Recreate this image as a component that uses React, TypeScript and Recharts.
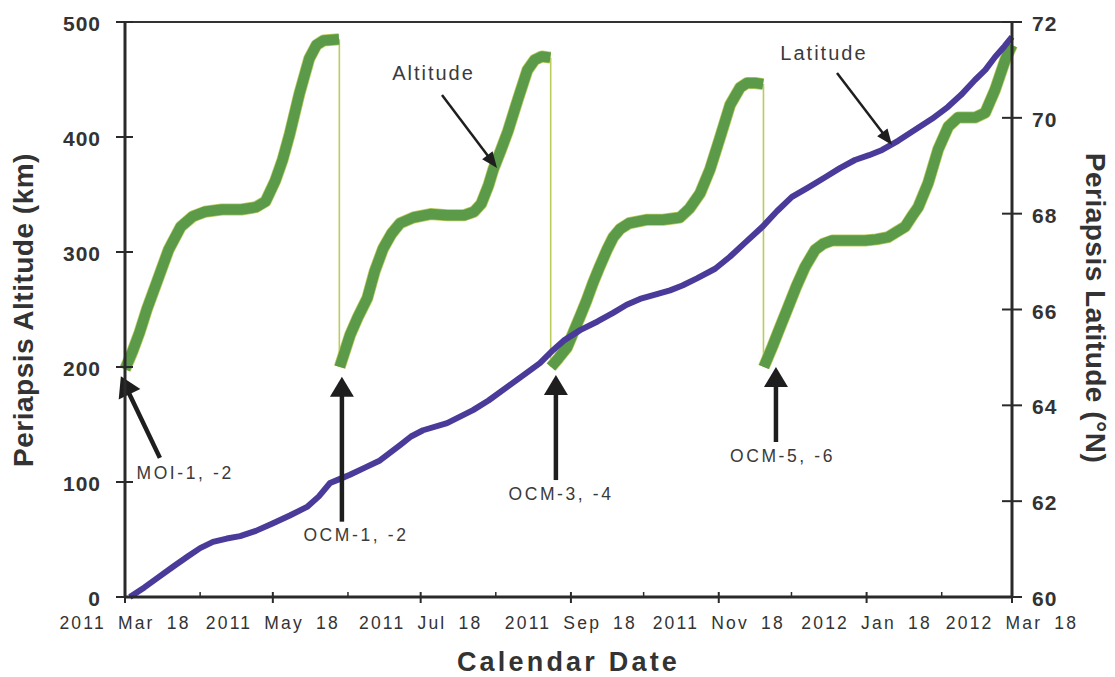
import React from 'react';
import { LineChart, Line, XAxis, YAxis, ReferenceLine, ReferenceDot } from 'recharts';

// Days since 2011 Mar 18
const X_TICK_DAYS = [0, 61, 122, 184, 245, 306, 366];
const X_TICK_LABELS = ['2011 Mar 18', '2011 May 18', '2011 Jul 18', '2011 Sep 18', '2011 Nov 18', '2012 Jan 18', '2012 Mar 18'];
const X_MINOR_DAYS = [31, 92, 153, 214, 275, 337];
const ALT_TICKS = [0, 100, 200, 300, 400, 500];
const LAT_TICKS = [60, 62, 64, 66, 68, 70, 72];

// Periapsis altitude (km), four segments between maneuvers: [day, km]
const ALT_SEG_1: [number, number][] = [
  [0, 198], [3, 213], [6, 230], [9, 250], [13, 273], [18, 302], [23, 322], [28, 331], [33, 335],
  [40, 337], [48, 337], [54, 339], [58, 344], [62, 362], [65, 380], [68, 403], [72, 438], [76, 468],
  [79, 480], [82, 484], [88.3, 485],
];
const ALT_SEG_2: [number, number][] = [
  [88.6, 200], [92.9, 228], [96, 243], [100, 260], [103, 283], [106.5, 303], [110, 316], [113.5, 325],
  [119, 330], [126, 333], [133, 332], [140, 332], [144, 335], [147, 342], [150, 358], [152, 372],
  [155, 388], [158, 405], [162, 432], [166, 458], [169, 467], [172, 470], [175.5, 469],
];
const ALT_SEG_3: [number, number][] = [
  [175.8, 200], [179, 208], [182.4, 217], [185, 230], [187.8, 244], [190.5, 258], [193.1, 273],
  [196, 288], [198.9, 302], [201.5, 313], [204.3, 320], [208, 325], [215, 328], [222, 328], [229, 330],
  [233, 338], [237.3, 351], [241.4, 372], [245.6, 400], [249.7, 428], [253.8, 443], [256.7, 447],
  [260, 447], [263.3, 446],
];
const ALT_SEG_4: [number, number][] = [
  [263.6, 200], [267, 217], [270, 233], [273.6, 252], [277, 270], [280.6, 287], [284.8, 302], [288, 307],
  [291.8, 310], [298, 310], [305.4, 310], [310, 311], [314.9, 313], [318, 317], [321.9, 322], [325, 332],
  [327.3, 339], [331.4, 360], [335.5, 389], [339.7, 409], [343.8, 417], [350.8, 417], [354.9, 421],
  [359, 441], [363.2, 467], [366, 480],
];
// Drops at maneuvers: [day, from km, to km]
const ALT_DROPS: [number, number, number][] = [
  [88.45, 485, 200], [175.65, 469, 200], [263.45, 446, 200],
];

// Periapsis latitude (deg N): [day, deg]
const LATITUDE: [number, number][] = [
  [2, 60.0], [8, 60.2], [14, 60.42], [19.8, 60.63], [26, 60.85], [31, 61.02], [36.3, 61.15], [42, 61.22],
  [47.5, 61.27], [54, 61.38], [61.1, 61.54], [68, 61.7], [75.1, 61.88], [80, 62.1], [84.6, 62.38],
  [88, 62.45], [92.8, 62.55], [99, 62.7], [105.2, 62.85], [113.5, 63.17], [118, 63.35], [123, 63.48],
  [132.9, 63.63], [143.6, 63.9], [150, 64.1], [157.6, 64.38], [165, 64.65], [171.2, 64.88],
  [176.6, 65.15], [181, 65.35], [187.8, 65.57], [195, 65.75], [201.4, 65.93], [207, 66.1],
  [212.5, 66.22], [218, 66.3], [224.9, 66.4], [230, 66.5], [236, 66.65], [243.5, 66.85], [249.6, 67.1],
  [256, 67.4], [262.9, 67.72], [269, 68.05], [275.2, 68.35], [282, 68.55], [288.9, 68.76], [295, 68.95],
  [301.2, 69.12], [307, 69.22], [312.4, 69.33], [319, 69.52], [326, 69.75], [333, 69.98], [339.6, 70.23],
  [345, 70.48], [350.7, 70.79], [355, 71.0], [359, 71.27], [363, 71.5], [366, 71.69],
];

// Annotation texts anchored in (day, km)
const NOTE_TEXTS: { text: string; d: number; v: number; big: boolean }[] = [
  { text: 'MOI-1, -2', d: 24.8, v: 108, big: false },
  { text: 'OCM-1, -2', d: 95.3, v: 54, big: false },
  { text: 'OCM-3, -4', d: 179.9, v: 90, big: false },
  { text: 'OCM-5, -6', d: 271.3, v: 123, big: false },
  { text: 'Altitude', d: 127.3, v: 456, big: true },
  { text: 'Latitude', d: 288.4, v: 473.5, big: true },
];
// Arrows: tail -> tip in (day, km)
const NOTE_ARROWS: { from: [number, number]; to: [number, number]; heavy: boolean }[] = [
  { from: [14.4, 121], to: [-1.7, 192], heavy: true },
  { from: [89.5, 65.5], to: [89.5, 191.6], heavy: true },
  { from: [177.8, 101.7], to: [177.8, 193], heavy: true },
  { from: [268.6, 134.8], to: [268.6, 200], heavy: true },
  { from: [130.8, 436.5], to: [153.5, 373], heavy: false },
  { from: [293.8, 455.7], to: [316.5, 393], heavy: false },
];

const toPts = (arr: [number, number][]) => arr.map(([d, v]) => ({ d, v }));

const FONT = '"Liberation Sans", Arial, Helvetica, sans-serif';
const GREEN = '#5a9a48';
const GREEN_EDGE = '#b9cc5c';
const PURPLE = '#4a3b9b';
const INK = '#2a2a2a';

const XTick = (props: any) => {
  const { x, y, payload } = props;
  const idx = X_TICK_DAYS.indexOf(payload.value);
  if (idx < 0) {
    return <line x1={x} x2={x} y1={y - 5} y2={y} stroke={INK} strokeWidth={1.5} />;
  }
  return (
    <g>
      <line x1={x} x2={x} y1={y - 5} y2={y + 6} stroke={INK} strokeWidth={2} />
      <text x={x} y={y + 32} textAnchor="middle" fontFamily={FONT} fontSize={17.5} fill="#333"
        style={{ letterSpacing: '2.2px', wordSpacing: '5px' }}>
        {X_TICK_LABELS[idx]}
      </text>
    </g>
  );
};

const LeftTick = (props: any) => {
  const { x, y, payload } = props;
  return (
    <g>
      <line x1={x - 9} x2={x + 8} y1={y} y2={y} stroke={INK} strokeWidth={2} />
      <text x={x - 24} y={y + 9} textAnchor="end" fontFamily={FONT} fontWeight="bold" fontSize={21} fill="#333"
        style={{ letterSpacing: '1px' }}>
        {payload.value}
      </text>
    </g>
  );
};

const RightTick = (props: any) => {
  const { x, y, payload } = props;
  return (
    <g>
      <line x1={x - 10} x2={x + 10} y1={y} y2={y} stroke={INK} strokeWidth={2} />
      <text x={x + 20} y={y + 9} textAnchor="start" fontFamily={FONT} fontWeight="bold" fontSize={21} fill="#333"
        style={{ letterSpacing: '1px' }}>
        {payload.value}
      </text>
    </g>
  );
};

const makeArrow = (heavy: boolean) => (p: any) => {
  const { x1, y1, x2, y2 } = p;
  const head = heavy ? 20 : 16;
  const headW = heavy ? 24 : 13;
  const shaft = heavy ? 4.5 : 2.5;
  const dx = x2 - x1;
  const dy = y2 - y1;
  const len = Math.hypot(dx, dy) || 1;
  const ux = dx / len;
  const uy = dy / len;
  const bx = x2 - ux * head;
  const by = y2 - uy * head;
  const nx = -uy;
  const ny = ux;
  return (
    <g>
      <line x1={x1} y1={y1} x2={bx + ux * 2} y2={by + uy * 2} stroke="#1e1e1e" strokeWidth={shaft} />
      <polygon
        points={`${x2},${y2} ${bx + (nx * headW) / 2},${by + (ny * headW) / 2} ${bx - (nx * headW) / 2},${by - (ny * headW) / 2}`}
        fill="#1e1e1e"
      />
    </g>
  );
};

const makeText = (text: string, big: boolean) => (p: any) => (
  <text x={p.cx} y={p.cy + (big ? 7.5 : 6.5)} textAnchor="middle" fontFamily={FONT} fontSize={big ? 20 : 17.5}
    fill="#3a3a3a" style={{ letterSpacing: big ? '2px' : '2.6px' }}>
    {text}
  </text>
);

const LeftTitle = () => {
  const cx = 15;
  const cy = 302;
  return (
    <text x={cx} y={cy} transform={`rotate(-90, ${cx}, ${cy})`} dy={10} textAnchor="middle" fontFamily={FONT}
      fontWeight="bold" fontSize={28} fill="#333" style={{ letterSpacing: '0.5px' }}>
      Periapsis Altitude (km)
    </text>
  );
};

const RightTitle = () => {
  const cx = 1088;
  const cy = 300;
  return (
    <text x={cx} y={cy} transform={`rotate(90, ${cx}, ${cy})`} dy={10} textAnchor="middle" fontFamily={FONT}
      fontWeight="bold" fontSize={28} fill="#333" style={{ letterSpacing: '0.5px' }}>
      Periapsis Latitude (°N)
    </text>
  );
};

const BottomTitle = (props: any) => {
  const vb = props.viewBox || {};
  const cx = vb.x + vb.width / 2;
  return (
    <text x={cx} y={663} textAnchor="middle" fontFamily={FONT} fontWeight="bold" fontSize={27} fill="#333"
      style={{ letterSpacing: '3.2px' }}>
      Calendar Date
    </text>
  );
};

const segments = [ALT_SEG_1, ALT_SEG_2, ALT_SEG_3, ALT_SEG_4].map(toPts);

export default function App() {
  const allTicks = [...X_TICK_DAYS, ...X_MINOR_DAYS].sort((a, b) => a - b);
  return (
    <div style={{ width: 1107, height: 669, background: '#fff' }}>
      <LineChart width={1107} height={669} margin={{ top: 14, right: 0, bottom: 0, left: 0 }}>
        <XAxis
          type="number"
          dataKey="d"
          domain={[0, 366]}
          ticks={allTicks}
          interval={0}
          tick={<XTick />}
          tickSize={0}
          tickMargin={0}
          tickLine={false}
          axisLine={{ stroke: INK, strokeWidth: 3 }}
          height={80}
          label={<BottomTitle />}
        />
        <YAxis
          yAxisId="left"
          type="number"
          domain={[0, 500]}
          ticks={ALT_TICKS}
          interval={0}
          tick={<LeftTick />}
          tickSize={0}
          tickMargin={0}
          tickLine={false}
          axisLine={{ stroke: INK, strokeWidth: 3 }}
          width={117}
          label={<LeftTitle />}
        />
        <YAxis
          yAxisId="right"
          orientation="right"
          type="number"
          domain={[60, 72]}
          ticks={LAT_TICKS}
          interval={0}
          tick={<RightTick />}
          tickSize={0}
          tickMargin={0}
          tickLine={false}
          axisLine={{ stroke: INK, strokeWidth: 3 }}
          width={103}
          label={<RightTitle />}
        />
        <ReferenceLine yAxisId="left" y={500} stroke="#333" strokeWidth={2} />

        {ALT_DROPS.map(([d, top, bottom], i) => (
          <Line
            key={`drop${i}`}
            yAxisId="left"
            data={[{ d, v: top }, { d, v: bottom }]}
            dataKey="v"
            stroke={GREEN_EDGE}
            strokeWidth={1.6}
            dot={false}
            activeDot={false}
            isAnimationActive={false}
          />
        ))}
        {segments.map((seg, i) => (
          <Line
            key={`edge${i}`}
            yAxisId="left"
            data={seg}
            dataKey="v"
            type="linear"
            stroke={GREEN_EDGE}
            strokeWidth={12}
            strokeLinejoin="round"
            dot={false}
            activeDot={false}
            isAnimationActive={false}
          />
        ))}
        {segments.map((seg, i) => (
          <Line
            key={`alt${i}`}
            yAxisId="left"
            data={seg}
            dataKey="v"
            type="linear"
            stroke={GREEN}
            strokeWidth={10.5}
            strokeLinejoin="round"
            dot={false}
            activeDot={false}
            isAnimationActive={false}
          />
        ))}
        <Line
          yAxisId="right"
          data={toPts(LATITUDE)}
          dataKey="v"
          type="linear"
          stroke={PURPLE}
          strokeWidth={6}
          strokeLinejoin="round"
          dot={false}
          activeDot={false}
          isAnimationActive={false}
        />

        {NOTE_ARROWS.map((a, i) => (
          <ReferenceLine
            key={`arrow${i}`}
            yAxisId="left"
            segment={[{ x: a.from[0], y: a.from[1] }, { x: a.to[0], y: a.to[1] }]}
            ifOverflow="visible"
            shape={makeArrow(a.heavy)}
          />
        ))}
        {NOTE_TEXTS.map((t, i) => (
          <ReferenceDot
            key={`note${i}`}
            yAxisId="left"
            x={t.d}
            y={t.v}
            r={0}
            ifOverflow="visible"
            shape={makeText(t.text, t.big)}
          />
        ))}
      </LineChart>
    </div>
  );
}
